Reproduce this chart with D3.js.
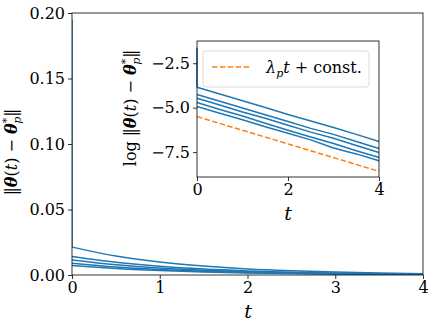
<!DOCTYPE html>
<html>
<head>
  <meta charset="utf-8">
  <script src="https://cdn.jsdelivr.net/npm/d3@7"></script>
  <style>
    body { margin: 0; background: #fff; }
    svg text { font-family: "DejaVu Serif", serif; fill: #000; }
  </style>
</head>
<body>
<script>
// time grid
var tValues = [0, 0.5, 1, 1.5, 2, 2.5, 3, 3.5, 4];

// ||theta(t) - theta*_p|| for the five runs
var errA = [0.0213, 0.0145, 0.0099, 0.0068, 0.0046, 0.0032, 0.0022, 0.0015, 0.0010];
var errB = [0.0141, 0.0097, 0.0066, 0.0045, 0.0031, 0.0021, 0.0015, 0.0010, 0.00068];
var errC = [0.0115, 0.0078, 0.0053, 0.0037, 0.0025, 0.0017, 0.0012, 0.0008, 0.00054];
var errD = [0.0090, 0.0061, 0.0042, 0.0028, 0.0019, 0.0013, 0.0009, 0.0006, 0.00041];
var errE = [0.0072, 0.0049, 0.0034, 0.0023, 0.0016, 0.0011, 0.0007, 0.0005, 0.00034];
// first run starts high and drops almost at once
var spikeT = [0, 0];
var spikeV = [0.195, 0.0213];

// reference slope line in the inset (log scale)
var constT = [0, 4];
var constV = [-5.5, -8.58];

var mainXTicks = [0, 1, 2, 3, 4];
var mainYTicks = [0, 0.05, 0.10, 0.15, 0.20];
var insetXTicks = [0, 2, 4];
var insetYTicks = [-2.5, -5.0, -7.5];

var blue = "#1f77b4", orange = "#ff7f0e";
var serif = "DejaVu Serif, serif";

var svg = d3.select("body").append("svg")
  .attr("width", 436).attr("height", 329)
  .attr("font-family", serif);

// ---- main axes
var x = d3.scaleLinear().domain([0, 4]).range([72, 423]);
var y = d3.scaleLinear().domain([0, 0.2]).range([275, 13]);

var runs = [errA, errB, errC, errD, errE];

svg.append("clipPath").attr("id", "mainclip").append("rect")
  .attr("x", 72).attr("y", 13).attr("width", 351).attr("height", 262);

var line = d3.line()
  .x(function(d) { return x(d.t); })
  .y(function(d) { return y(d.v); })
  .curve(d3.curveMonotoneX);

var gLines = svg.append("g").attr("clip-path", "url(#mainclip)");
runs.forEach(function(r) {
  gLines.append("path")
    .datum(tValues.map(function(t, i) { return {t: t, v: r[i]}; }))
    .attr("d", line)
    .attr("fill", "none").attr("stroke", blue).attr("stroke-width", 1.5);
});
gLines.append("path")
  .datum(spikeT.map(function(t, i) { return {t: t, v: spikeV[i]}; }))
  .attr("d", d3.line().x(function(d) { return x(d.t); }).y(function(d) { return y(d.v); }))
  .attr("fill", "none").attr("stroke", blue).attr("stroke-width", 1.5);

// frame
svg.append("rect").attr("x", 72).attr("y", 13).attr("width", 351).attr("height", 262)
  .attr("fill", "none").attr("stroke", "#000").attr("stroke-width", 0.8);

function styleAxis(a) {
  a.attr("font-family", serif).attr("font-size", 16);
  a.select(".domain").remove();
  a.selectAll("line").attr("stroke", "#000").attr("stroke-width", 0.8);
}

var xAxis = svg.append("g").attr("transform", "translate(0,275)")
  .call(d3.axisBottom(x).tickValues(mainXTicks).tickFormat(d3.format("d")).tickSize(4).tickPadding(3));
var yAxis = svg.append("g").attr("transform", "translate(72,0)")
  .call(d3.axisLeft(y).tickValues(mainYTicks).tickFormat(d3.format(".2f")).tickSize(4).tickPadding(3));
styleAxis(xAxis);
styleAxis(yAxis);

// axis labels
svg.append("text").attr("x", 248).attr("y", 318).attr("text-anchor", "middle")
  .attr("font-size", 19).attr("font-style", "italic").text("t");

function normLabel(g, withLog, size) {
  var t = g.append("text").attr("text-anchor", "middle").attr("font-size", size);
  if (withLog) t.append("tspan").text("log ");
  t.append("tspan").text("‖");
  t.append("tspan").attr("font-weight", "bold").attr("font-style", "italic").text("θ");
  t.append("tspan").text("(");
  t.append("tspan").attr("font-style", "italic").text("t");
  t.append("tspan").text(") − ");
  t.append("tspan").attr("font-weight", "bold").attr("font-style", "italic").text("θ");
  t.append("tspan").attr("font-size", 11).attr("dy", -7).text("*");
  t.append("tspan").attr("font-size", 11).attr("font-style", "italic").attr("dx", -6).attr("dy", 11).text("p");
  t.append("tspan").attr("dy", -4).text("‖");
  return t;
}
normLabel(svg.append("g").attr("transform", "translate(17,152) rotate(-90)"), false, 16);

// ---- inset axes
var xi = d3.scaleLinear().domain([0, 4]).range([197, 379]);
var yi = d3.scaleLinear().domain([-8.9, -1.25]).range([177, 41]);

svg.append("rect").attr("x", 197).attr("y", 41).attr("width", 182).attr("height", 136)
  .attr("fill", "#fff").attr("stroke", "none");

var lineI = d3.line()
  .x(function(d) { return xi(d.t); })
  .y(function(d) { return yi(d.v); });

runs.forEach(function(r) {
  svg.append("path")
    .datum(tValues.map(function(t, i) { return {t: t, v: Math.log(r[i])}; }))
    .attr("d", lineI)
    .attr("fill", "none").attr("stroke", blue).attr("stroke-width", 1.5);
});
svg.append("path")
  .datum(spikeT.map(function(t, i) { return {t: t, v: Math.log(spikeV[i])}; }))
  .attr("d", lineI)
  .attr("fill", "none").attr("stroke", blue).attr("stroke-width", 1.5);
svg.append("path")
  .datum(constT.map(function(t, i) { return {t: t, v: constV[i]}; }))
  .attr("d", lineI)
  .attr("fill", "none").attr("stroke", orange).attr("stroke-width", 1.5)
  .attr("stroke-dasharray", "5.5,2.4");

svg.append("rect").attr("x", 197).attr("y", 41).attr("width", 182).attr("height", 136)
  .attr("fill", "none").attr("stroke", "#000").attr("stroke-width", 0.8);

var xAxisI = svg.append("g").attr("transform", "translate(0,177)")
  .call(d3.axisBottom(xi).tickValues(insetXTicks).tickFormat(d3.format("d")).tickSize(4).tickPadding(3));
var yAxisI = svg.append("g").attr("transform", "translate(197,0)")
  .call(d3.axisLeft(yi).tickValues(insetYTicks).tickFormat(d3.format(".1f")).tickSize(4).tickPadding(3));
styleAxis(xAxisI);
styleAxis(yAxisI);

svg.append("text").attr("x", 288).attr("y", 220).attr("text-anchor", "middle")
  .attr("font-size", 19).attr("font-style", "italic").text("t");
normLabel(svg.append("g").attr("transform", "translate(136,108) rotate(-90)"), true, 16);

// legend
svg.append("rect").attr("x", 203).attr("y", 51).attr("width", 166).attr("height", 36)
  .attr("rx", 3).attr("fill", "#fff").attr("fill-opacity", 0.8)
  .attr("stroke", "#d0d0d0").attr("stroke-width", 0.8);
svg.append("line").attr("x1", 212).attr("x2", 250).attr("y1", 67).attr("y2", 67)
  .attr("stroke", orange).attr("stroke-width", 1.5).attr("stroke-dasharray", "5.5,2.4");
var lt = svg.append("text").attr("x", 266).attr("y", 73).attr("font-size", 16);
lt.append("tspan").attr("font-style", "italic").text("λ");
lt.append("tspan").attr("font-style", "italic").attr("font-size", 11).attr("dy", 4).text("p");
lt.append("tspan").attr("font-style", "italic").attr("dy", -4).text("t");
lt.append("tspan").text(" + const.");
</script>
</body>
</html>
